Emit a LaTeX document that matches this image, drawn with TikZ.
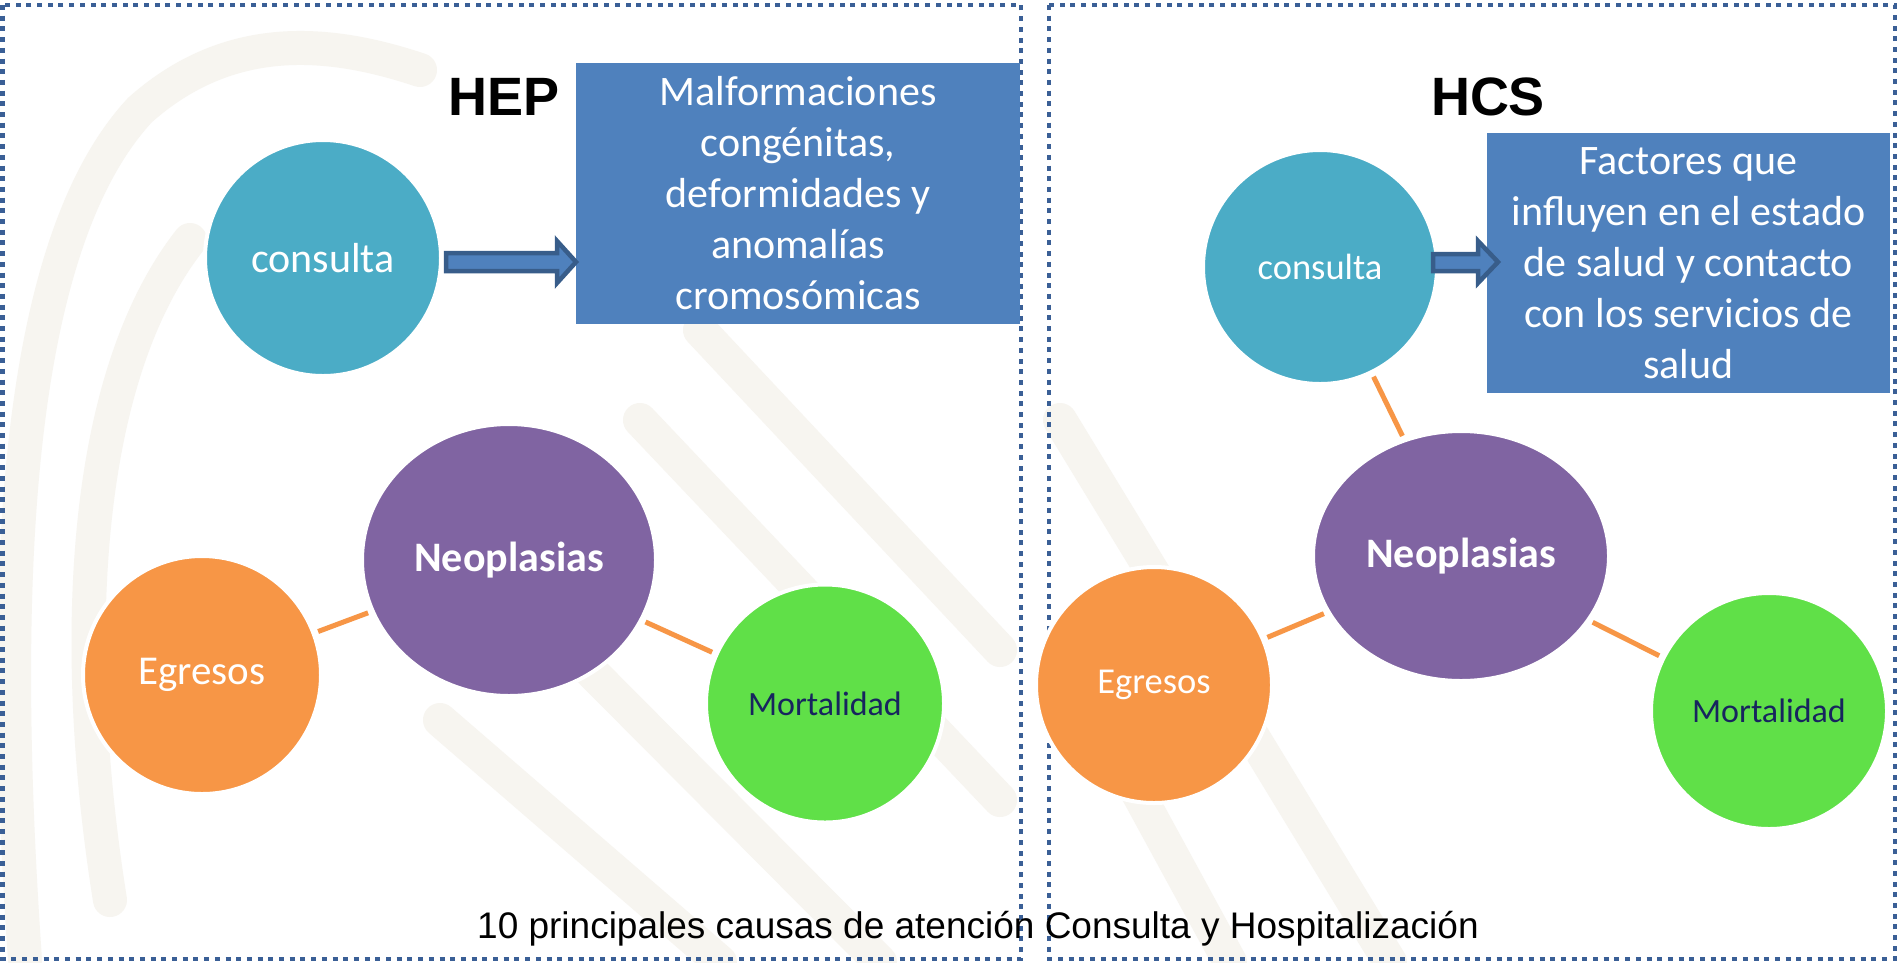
\documentclass[tikz,border=0pt]{standalone}
\usepackage{fontspec}
\usetikzlibrary{shapes.geometric}
\setmainfont{Carlito}
\newfontfamily\arialf{Liberation Sans}
\definecolor{teal}{HTML}{4BACC6}
\definecolor{purp}{HTML}{8064A2}
\definecolor{orng}{HTML}{F79646}
\definecolor{lime}{HTML}{60E048}
\definecolor{boxblue}{HTML}{4F81BD}
\definecolor{arrowedge}{HTML}{385D8A}
\definecolor{dashcol}{HTML}{3A5F96}
\definecolor{navy}{HTML}{17255E}
\definecolor{wm}{HTML}{F7F5F0}
\begin{document}
\begin{tikzpicture}[x=1pt,y=-1pt,
  bubble/.style={circle, draw=white, line width=4pt, inner sep=0pt, outer sep=5pt, text=white},
  oval/.style={ellipse, draw=white, line width=4pt, inner sep=0pt, outer sep=5pt, fill=purp, text=white, font=\fontsize{42}{50}\selectfont\bfseries},
  infobox/.style={rectangle, fill=boxblue, inner sep=0pt, text=white, align=center, font=\fontsize{42}{51}\selectfont},
  link/.style={draw=orng, line width=5pt},
  blockarrow/.style={fill=boxblue, draw=arrowedge, line width=4.5pt, line join=miter},
  dashbox/.style={draw=dashcol, line width=4.5pt, dash pattern=on 5pt off 5.7pt},
  title/.style={font=\arialf\bfseries\fontsize{54}{60}\selectfont, text=black},
  wmark/.style={draw=wm, line width=34pt, line cap=round}
]
\useasboundingbox (0,0) rectangle (1897,962);
\fill[white] (0,0) rectangle (1897,962);

% faint watermark
\draw[wmark] (25,960) .. controls (0,600) and (10,250) .. (140,110) .. controls (230,30) and (330,40) .. (420,70);
\draw[wmark] (110,900) .. controls (70,650) and (80,380) .. (190,240);
\draw[wmark] (640,420) -- (1000,800);
\draw[wmark] (700,330) -- (1000,650);
\draw[wmark] (440,720) -- (720,962);
\draw[wmark] (560,640) -- (880,962);
\draw[wmark] (1060,420) -- (1390,962);
\draw[wmark] (1060,650) -- (1230,962);

% panels
\draw[dashbox] (2.5,5) rectangle (1021,959);
\draw[dashbox] (1049,5) rectangle (1895,959);

% left panel
\node[title] (hep) at (504,97) {HEP};
\node[infobox, minimum width=444pt, minimum height=261pt] (bL) at (798,193.5)
  {Malformaciones\\congénitas,\\deformidades y\\anomalías\\cromosómicas};
\node[bubble, fill=teal, minimum size=236pt, font=\fontsize{42}{50}\selectfont] (cL) at (323,258) {consulta};
\node[oval, minimum width=294pt, minimum height=272pt] (nL) at (509,560) {Neoplasias};
\node[bubble, fill=orng, minimum size=238pt, font=\fontsize{41}{50}\selectfont] (eL) at (202,675) {Egresos};
\node[bubble, fill=lime, minimum size=238pt, text=navy, font=\fontsize{34}{40}\selectfont] (mL) at (825,703.5) {Mortalidad};
\draw[link] (eL) -- (nL);
\draw[link] (nL) -- (mL);
\draw[blockarrow] (446,253) -- (557,253) -- (557,241) -- (576,262) -- (557,283) -- (557,271) -- (446,271) -- cycle;

% right panel
\node[title] (hcs) at (1488,97) {HCS};
\node[infobox, minimum width=403pt, minimum height=260pt] (bR) at (1688.5,263)
  {Factores que\\influyen en el estado\\de salud y contacto\\con los servicios de\\salud};
\node[bubble, fill=teal, minimum size=234pt, font=\fontsize{36.5}{44}\selectfont] (cR) at (1320,267) {consulta};
\node[oval, minimum width=296pt, minimum height=250pt] (nR) at (1461,556) {Neoplasias};
\node[bubble, fill=orng, minimum size=236pt, font=\fontsize{36.5}{44}\selectfont] (eR) at (1154,685) {Egresos};
\node[bubble, fill=lime, minimum size=236pt, text=navy, font=\fontsize{34}{40}\selectfont] (mR) at (1769,711) {Mortalidad};
\draw[link] (cR) -- (nR);
\draw[link] (eR) -- (nR);
\draw[link] (nR) -- (mR);
\draw[blockarrow] (1433,254) -- (1478,254) -- (1478,241) -- (1498,262) -- (1478,283) -- (1478,271) -- (1433,271) -- cycle;

% caption
\node[font=\arialf\fontsize{37}{44}\selectfont, inner sep=0pt] (cap) at (978,929) {10 principales causas de atención Consulta y Hospitalización};
\end{tikzpicture}
\end{document}
